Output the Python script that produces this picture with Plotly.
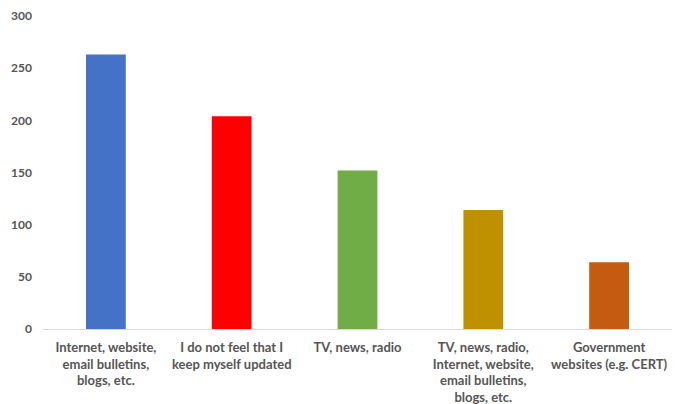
import plotly.graph_objects as go

# Sources respondents use to keep themselves updated
categories = [
    "Internet, website, email bulletins, blogs, etc.",
    "I do not feel that I keep myself updated",
    "TV, news, radio",
    "TV, news, radio, Internet, website, email bulletins, blogs, etc.",
    "Government websites (e.g. CERT)",
]
tick_labels = [
    "Internet, website,<br>email bulletins,<br>blogs, etc.",
    "I do not feel that I<br>keep myself updated",
    "TV, news, radio",
    "TV, news, radio,<br>Internet, website,<br>email bulletins,<br>blogs, etc.",
    "Government<br>websites (e.g. CERT)",
]
counts = [263, 204, 152, 114, 64]
bar_colors = ["#4472C4", "#FF0000", "#70AD47", "#BF9000", "#C55A11"]
y_ticks = [0, 50, 100, 150, 200, 250, 300]

text_font = dict(family="Lato, 'Open Sans', sans-serif", size=13, color="#595959")

fig = go.Figure(
    go.Bar(
        x=categories,
        y=counts,
        marker=dict(color=bar_colors, line=dict(width=0)),
        hoverinfo="x+y",
    )
)

fig.update_layout(
    width=678,
    height=404,
    margin=dict(l=43, r=6, t=16, b=75),
    paper_bgcolor="white",
    plot_bgcolor="white",
    bargap=0.684,
    showlegend=False,
    font=text_font,
)

fig.update_xaxes(
    tickmode="array",
    tickvals=categories,
    ticktext=tick_labels,
    tickangle=0,
    automargin=False,
    showline=True,
    linecolor="#D9D9D9",
    linewidth=1,
    showgrid=False,
    ticks="",
    ticklabelstandoff=6,
    tickfont=dict(family="Lato, 'Open Sans', sans-serif", size=13, color="#555555", weight="bold"),
)

fig.update_yaxes(
    range=[0, 300],
    tickmode="array",
    tickvals=y_ticks,
    automargin=False,
    showgrid=False,
    zeroline=False,
    showline=False,
    ticks="",
    ticklabelstandoff=10,
    tickfont=dict(family="Lato, 'Open Sans', sans-serif", size=12, color="#555555", weight="bold"),
)

fig.write_html("out.html")
